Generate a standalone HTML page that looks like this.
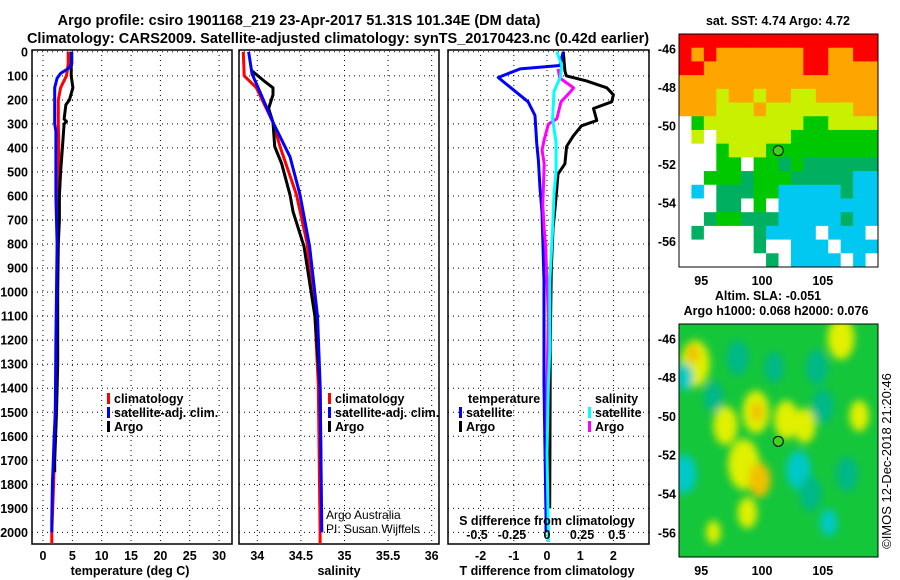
<!DOCTYPE html>
<html><head><meta charset="utf-8">
<style>
body{margin:0;background:#fff;}
svg{display:block;font-family:"Liberation Sans",sans-serif;}
.t{font-weight:bold;font-size:14.5px;}
.k{font-weight:bold;font-size:12.5px;}
</style></head>
<body>
<svg id="s" width="900" height="580" viewBox="0 0 900 580">
<defs>
<clipPath id="c1"><rect x="32" y="50" width="200" height="494"/></clipPath>
<clipPath id="c2"><rect x="239" y="50" width="200" height="494"/></clipPath>
<clipPath id="c3"><rect x="448" y="50" width="201" height="494"/></clipPath>
<clipPath id="cm2"><rect x="679" y="324" width="199" height="233"/></clipPath>
<filter id="bl" x="-50%" y="-50%" width="200%" height="200%"><feGaussianBlur stdDeviation="4"/></filter>
</defs>
<text class="t" x="299" y="25" text-anchor="middle">Argo profile: csiro 1901168_219 23-Apr-2017 51.31S 101.34E (DM data)</text>
<text class="t" x="338" y="43" text-anchor="middle">Climatology: CARS2009. Satellite-adjusted climatology: synTS_20170423.nc (0.42d earlier)</text>
<g id="g"></g>
</svg>
<script>
// ---------- data ----------
const depthTicks=[0,100,200,300,400,500,600,700,800,900,1000,1100,1200,1300,1400,1500,1600,1700,1800,1900,2000];
const tempTicks=[0,5,10,15,20,25,30];
const salTicks=[34,34.5,35,35.5,36];
const salTickLabels=["34","34.5","35","35.5","36"];
const tdTicks=[-2,-1,0,1,2];
const sdTicks=[-0.5,-0.25,0,0.25,0.5];
const sdTickLabels=["-0.5","-0.25","0","0.25","0.5"];

const tClimD=[0,50,100,125,150,200,300,400,500,600,800,1000,1200,1400,1600,1800,2000,2060];
const tClimV=[4.3,4.3,4.0,3.5,3.0,2.6,2.6,2.7,2.7,2.6,2.5,2.4,2.3,2.2,2.0,1.8,1.5,1.5];
const tSatD=[0,50,70,90,110,150,300,330,600,800,1000,1200,1500,1600,1800,1950,2000];
const tSatV=[4.9,4.9,4.3,3.0,2.4,2.0,2.0,2.2,2.2,2.4,2.3,2.2,2.1,1.9,1.6,1.5,1.5];
const tArgD=[0,100,150,200,220,280,290,300,400,500,600,700,800,1000,1300,1500,1700,1750];
const tArgV=[4.8,4.8,5.1,4.5,3.9,3.6,4.0,3.6,3.3,3.0,2.8,2.8,2.6,2.5,2.5,2.3,2.0,2.0];

const sClimD=[0,100,150,294,394,595,795,1097,1384,2000,2060];
const sClimV=[33.84,33.85,33.99,34.18,34.26,34.45,34.57,34.66,34.70,34.72,34.72];
const sSatD=[0,93,150,294,437,595,810,1100,1384,2000];
const sSatV=[33.90,33.94,34.01,34.18,34.375,34.49,34.60,34.69,34.72,34.74];
const sArgD=[80,119,150,179,236,294,394,466,595,666,810,1100,1400,1750];
const sArgV=[33.94,34.07,34.18,34.18,34.13,34.18,34.20,34.28,34.375,34.41,34.535,34.66,34.72,34.73];

const dTSatD=[0,57,71,107,136,208,265,380,452,567,667,954,1384,1929,2000];
const dTSatV=[0.49,0.39,-0.81,-1.47,-1.21,-0.57,-0.36,-0.31,-0.26,-0.21,-0.15,-0.09,-0.09,-0.03,-0.03];
const dTArgD=[0,80,100,121,150,179,208,236,286,308,351,394,466,509,595,738,900,1200,1900];
const dTArgV=[0.49,0.54,0.58,1.19,1.80,2.0,1.95,1.40,1.5,1.04,0.79,0.59,0.54,0.33,0.28,0.18,0.13,0.10,0.08];
const dSSatD=[0,57,107,165,279,380,495,595,738,954,1241,1384,1670,2000,2040];
const dSSatV=[0.07,0.105,0.095,0.05,0.04,0.065,0.065,0.05,0.04,0.02,0.02,0.01,0.0,0.01,0.01];
const dSArgD=[71,107,121,150,165,208,279,301,366,409,466,552,638,738,810,954,1100,1400,1600];
const dSArgV=[0.08,0.09,0.12,0.19,0.17,0.10,0.07,0.01,-0.02,-0.035,-0.02,-0.025,-0.03,-0.02,-0.01,0.0,0.01,0.0,0.0];

// SST map grid (rows top->bottom, cols west->east)
const sstRows=[
"RRRRRRRRRRRRRRRR",
"ROROOOOOOORROORR",
"RROOOOOOOORROOOO",
"OOOOOOOOOOOOOOOO",
"OOOYOOYOOYYOOOOO",
"OOOYYYOYYYYYYYOO",
"WGYYYYYYYYGGYYYY",
"WYWYYYYYYGGGGGGG",
"WWWGYYYGGGGGGGGG",
"WWWGGWGGDGDDDDDD",
"WWGGGDGGGDDDDDCC",
"WCWDDDGGCCCCCDCC",
"WWWDDWGWCCCCCCCC",
"WWDGGDDDCCCCCDCC",
"WDWWWWDCCCCWCCCW",
"WWWWWWDWWCCCWCCC",
"WWWWWWWDWCCCCWCW"];
const sstColors={R:"#ff0000",O:"#ffa500",Y:"#c8f000",G:"#00c800",D:"#00b060",C:"#00c8f0",W:"#ffffff"};
// SLA blobs: lon, lat, radius(deg), colour key
const slaLon=[94.5,94.3,93.6,97,99.5,99.6,102,103.5,106.5,108,98.5,99.8,98.8,96,103,96,105,101,105.5,93.6,107,104,98,104.5];
const slaLat=[-47.3,-46.8,-48,-50.5,-49.8,-49.8,-50.2,-50.5,-46,-50,-52.5,-53.3,-55,-56,-52.8,-49,-49.5,-47.5,-55.5,-53,-53,-54,-47,-47.5];
const slaR=[1.2,0.5,0.7,1.0,1.1,0.5,1.0,0.9,1.1,0.8,1.3,0.9,0.8,0.6,1.0,0.8,0.9,0.8,0.7,1.0,0.9,0.9,0.9,0.9];
const slaC=["Y","O","C","Y","Y","O","Y","Y","Y","Y","Y","O","Y","Y","C","T","T","T","C","C","T","T","T","T"];
const slaColors={Y:"#e0f000",O:"#f0c000",C:"#00c8c8",T:"#00b888"};

// ---------- helpers ----------
const g=document.getElementById('g');
const NS="http://www.w3.org/2000/svg";
function mk(tag,attrs,parent){const e=document.createElementNS(NS,tag);for(const k in attrs)e.setAttribute(k,attrs[k]);(parent||g).appendChild(e);return e;}
const yD=d=>51.8+d*0.2403;
const xT=v=>43+v*5.87;
const xS=v=>257.3+(v-34)*87.2;
const xTD=v=>547+v*33.2;
const xSD=v=>547+v*140;
const m1x=lon=>762+(lon-100)*12.15, m1y=lat=>48.3+(-46-lat)*19.27;
const m2y=lat=>338.3+(-46-lat)*19.4;

function panel(x0,w,name,vx,vticks){
  const p=mk('g',{});
  
  
  depthTicks.forEach(d=>{mk('line',{x1:x0,x2:x0+w,y1:yD(d),y2:yD(d),stroke:'#000','stroke-width':1,'stroke-dasharray':'1,4'},p);});
  vticks.forEach(v=>{mk('line',{x1:vx(v),x2:vx(v),y1:50,y2:544,stroke:'#000','stroke-width':1,'stroke-dasharray':'1,4'},p);});
  const r=mk('rect',{x:x0,y:50,width:w,height:494,fill:'none',stroke:'#000','stroke-width':1.5},p);
  
  
  return p;
}
function line(D,V,xf,color,name,clip){
  const pts=D.map((d,i)=>xf(V[i]).toFixed(1)+','+yD(d).toFixed(1)).join(' ');
  const e=mk('polyline',{points:pts,fill:'none',stroke:color,'stroke-width':3,'stroke-linejoin':'round','clip-path':'url(#'+clip+')'});
  
  
}
function txt(x,y,s,cls,anchor,name,extra){
  const e=mk('text',Object.assign({x:x,y:y,'class':cls,'text-anchor':anchor||'start'},extra||{}));
  e.textContent=s;
  
  
  return e;
}
function legend(x,y,color,label,name){
  const r=mk('rect',{x:x,y:y-10,width:3,height:11,fill:color});
  
  
  txt(x+7,y,label,'k','start',name);
}

// ---------- panel 1: temperature ----------
panel(32,200,'temperature-panel',xT,tempTicks);
depthTicks.forEach(d=>txt(28,yD(d)+4.5,String(d),'k','end','depth-tick-label'));
tempTicks.forEach(v=>txt(xT(v),560,String(v),'k','middle','temperature-tick-label'));
txt(130,575,'temperature (deg C)','k','middle','temperature-axis-title');
line(tClimD,tClimV,xT,'#ff0000','temp-climatology-line','c1');
line(tArgD,tArgV,xT,'#000000','temp-argo-line','c1');
line(tSatD,tSatV,xT,'#0000ff','temp-satellite-line','c1');
legend(107,403,'#ff0000','climatology','temp-legend-climatology');
legend(107,417,'#0000ff','satellite-adj. clim.','temp-legend-satellite');
legend(107,431,'#000000','Argo','temp-legend-argo');

// ---------- panel 2: salinity ----------
panel(239,200,'salinity-panel',xS,salTicks);
salTicks.forEach((v,i)=>txt(xS(v),560,salTickLabels[i],'k','middle','salinity-tick-label'));
txt(339,575,'salinity','k','middle','salinity-axis-title');
line(sClimD,sClimV,xS,'#ff0000','sal-climatology-line','c2');
line(sArgD,sArgV,xS,'#000000','sal-argo-line','c2');
line(sSatD,sSatV,xS,'#0000ff','sal-satellite-line','c2');
legend(328,403,'#ff0000','climatology','sal-legend-climatology');
legend(328,417,'#0000ff','satellite-adj. clim.','sal-legend-satellite');
legend(328,431,'#000000','Argo','sal-legend-argo');
txt(326,519,'Argo Australia','','start','credit-argo-australia',{'font-size':'12px'});
txt(326,533,'PI: Susan Wijffels','','start','credit-pi',{'font-size':'12px'});

// ---------- panel 3: differences ----------
panel(448,201,'difference-panel',xTD,tdTicks);
line(dTArgD,dTArgV,xTD,'#000000','tdiff-argo-line','c3');
line(dTSatD,dTSatV,xTD,'#0000ff','tdiff-satellite-line','c3');
line(dSArgD,dSArgV,xSD,'#ff00ff','sdiff-argo-line','c3');
line(dSSatD,dSSatV,xSD,'#00ffff','sdiff-satellite-line','c3');
txt(468,403,'temperature','k','start','diff-legend-temperature-heading');
legend(459,417,'#0000ff','satellite','diff-legend-t-satellite');
legend(459,431,'#000000','Argo','diff-legend-t-argo');
txt(595,403,'salinity','k','start','diff-legend-salinity-heading');
legend(588,417,'#00ffff','satellite','diff-legend-s-satellite');
legend(588,431,'#ff00ff','Argo','diff-legend-s-argo');
txt(547,525,'S difference from climatology','k','middle','sdiff-axis-title');
sdTicks.forEach((v,i)=>txt(xSD(v),539,sdTickLabels[i],'k','middle','sdiff-tick-label'));
tdTicks.forEach(v=>txt(xTD(v),560,String(v),'k','middle','tdiff-tick-label'));
txt(547,575,'T difference from climatology','k','middle','tdiff-axis-title');

// ---------- map 1: SST ----------
txt(778,25,'sat. SST: 4.74 Argo: 4.72','k','middle','sst-map-title');
const nR=sstRows.length, cw=199/16, ch=233/nR;
sstRows.forEach((row,r)=>{for(let c=0;c<row.length;c++){
  const e=mk('rect',{x:(679+c*cw).toFixed(2),y:(34+r*ch).toFixed(2),width:(cw+0.5).toFixed(2),height:(ch+0.5).toFixed(2),fill:sstColors[row[c]]});
  
  
}});
mk('rect',{x:679,y:34,width:199,height:233,fill:'none',stroke:'#000','stroke-width':1});
const mk1=mk('circle',{cx:m1x(101.34),cy:m1y(-51.31),r:5,fill:'#40d020',stroke:'#000','stroke-width':1});


[-46,-48,-50,-52,-54,-56].forEach(v=>txt(676,m1y(v)+5,String(v),'k','end','sst-lat-label'));
[95,100,105].forEach(v=>txt(m1x(v),285,String(v),'k','middle','sst-lon-label'));

// ---------- map 2: SLA ----------
txt(768,300,'Altim. SLA: -0.051','k','middle','sla-map-title');
txt(776,315,'Argo h1000: 0.068 h2000: 0.076','k','middle','sla-argo-heights');
const base=mk('rect',{x:679,y:324,width:199,height:233,fill:'#14c63a'});


const bg=mk('g',{'clip-path':'url(#cm2)'});
const bb=mk('g',{filter:'url(#bl)'},bg);
slaLon.forEach((lon,i)=>{
  const e=mk('ellipse',{cx:m1x(lon),cy:m2y(slaLat[i]),rx:slaR[i]*12.15,ry:slaR[i]*19.4,fill:slaColors[slaC[i]]},bb);
  
  
});
mk('rect',{x:679,y:324,width:199,height:233,fill:'none',stroke:'#000','stroke-width':1});
const mk2=mk('circle',{cx:m1x(101.34),cy:m2y(-51.31),r:5,fill:'#40d020',stroke:'#000','stroke-width':1});


[-46,-48,-50,-52,-54,-56].forEach(v=>txt(676,m2y(v)+5,String(v),'k','end','sla-lat-label'));
[95,100,105].forEach(v=>txt(m1x(v),575,String(v),'k','middle','sla-lon-label'));
txt(0,0,'©IMOS 12-Dec-2018 21:20:46','','middle','copyright-stamp',{'font-size':'13px',transform:'translate(891,461) rotate(-90)'});
</script>
</body></html>
